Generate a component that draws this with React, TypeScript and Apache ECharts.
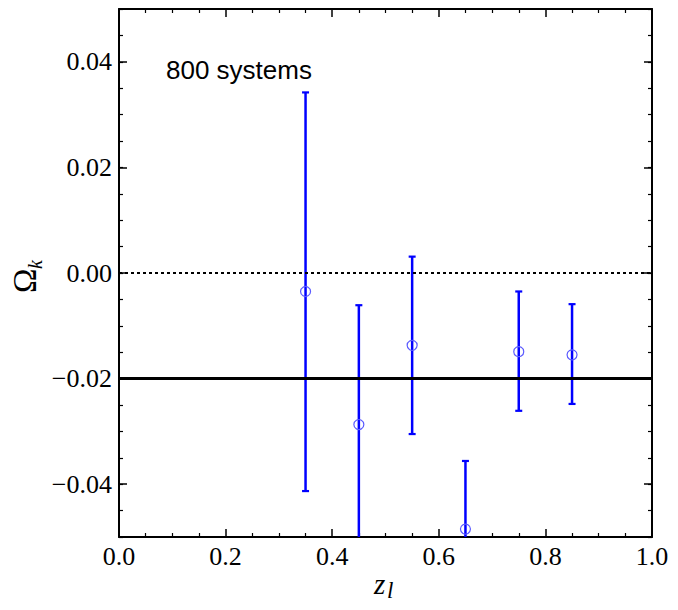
import React, { useEffect, useRef } from "react";
import * as echarts from "echarts";

const zl = [0.35, 0.45, 0.55, 0.65, 0.75, 0.85];
const omegaK = [-0.0035, -0.0287, -0.0137, -0.0485, -0.0149, -0.0155];
const errLow = [-0.0413, -0.054, -0.0305, -0.062, -0.0261, -0.0248];
const errHigh = [0.0342, -0.0061, 0.0031, -0.0356, -0.0035, -0.0059];
const yMajorTicks = [-0.04, -0.02, 0, 0.02, 0.04];
const refZero = [[0, 0], [1, 0]];
const refFlat = [[0, -0.02], [1, -0.02]];
const annotation = "800 systems";

const serif = "'Liberation Serif', 'DejaVu Serif', serif";

const fmtY = (v: number) => {
  const s = Math.abs(v) < 1e-9 ? "0.00" : v.toFixed(2);
  return s.replace("-", "\u2212");
};

export default function App() {
  const ref = useRef<HTMLDivElement>(null);
  useEffect(() => {
    if (!ref.current) return;
    const chart = echarts.init(ref.current, null, { renderer: "svg" });
    const left = 119, right = 26, top = 9, bottom = 73;
    const axisLine = { show: true, onZero: false, lineStyle: { color: "#000", width: 2 } };
    const majorTick = { show: true, inside: true, length: 8, lineStyle: { color: "#000", width: 1.5 } };
    const minorTickY = { show: true, inside: true, length: 4, lineStyle: { color: "#000", width: 1.2 } };
    const labelStyle = { color: "#000", fontFamily: serif, fontSize: 26 };

    const errData = zl.map((x, i) => [x, errLow[i], errHigh[i]]);

    chart.setOption({
      animation: false,
      backgroundColor: "#fff",
      grid: { left, right, top, bottom, containLabel: false },
      xAxis: [
        {
          type: "value", position: "bottom", min: 0, max: 1, interval: 0.2,
          axisLine, axisTick: majorTick,
          minorTick: { show: true, splitNumber: 4, length: 4, lineStyle: { color: "#000", width: 1.2 } },
          axisLabel: { ...labelStyle, margin: 6, formatter: (v: number) => v.toFixed(1) },
          splitLine: { show: false }, minorSplitLine: { show: false },
        },
        {
          type: "value", position: "top", min: 0, max: 1, interval: 0.2,
          axisLine, axisTick: majorTick,
          minorTick: { show: true, splitNumber: 4, length: 4, lineStyle: { color: "#000", width: 1.2 } },
          axisLabel: { show: false }, splitLine: { show: false }, minorSplitLine: { show: false },
        },
      ],
      yAxis: [
        {
          type: "value", position: "left", min: -0.05, max: 0.05,
          axisLine,
          axisTick: { ...majorTick, customValues: yMajorTicks },
          axisLabel: { ...labelStyle, margin: 7, customValues: yMajorTicks, formatter: fmtY },
          splitLine: { show: false },
        },
        {
          type: "value", position: "left", min: -0.05, max: 0.05, interval: 0.005,
          axisLine: { show: false, onZero: false }, axisTick: minorTickY,
          axisLabel: { show: false }, splitLine: { show: false },
        },
        {
          type: "value", position: "right", min: -0.05, max: 0.05,
          axisLine,
          axisTick: { ...majorTick, customValues: yMajorTicks },
          axisLabel: { show: false }, splitLine: { show: false },
        },
        {
          type: "value", position: "right", min: -0.05, max: 0.05, interval: 0.005,
          axisLine: { show: false, onZero: false }, axisTick: minorTickY,
          axisLabel: { show: false }, splitLine: { show: false },
        },
      ],
      series: [
        {
          type: "line", data: refZero, xAxisIndex: 0, yAxisIndex: 0, symbol: "none",
          lineStyle: { color: "#000", width: 1.8, type: [3, 3] }, silent: true,
        },
        {
          type: "line", data: refFlat, xAxisIndex: 0, yAxisIndex: 0, symbol: "none",
          lineStyle: { color: "#000", width: 3 }, silent: true,
        },
        {
          type: "custom", xAxisIndex: 0, yAxisIndex: 0, data: errData, clip: true,
          renderItem: (params: any, api: any) => {
            const x = api.value(0);
            const lo = api.value(1);
            const hi = api.value(2);
            const pLo = api.coord([x, lo]);
            const pHi = api.coord([x, hi]);
            const cs = params.coordSys;
            const yTop = cs.y, yBot = cs.y + cs.height;
            const y1 = Math.max(yTop, Math.min(yBot, pHi[1]));
            const y2 = Math.max(yTop, Math.min(yBot, pLo[1]));
            const cx = pLo[0];
            const st = { stroke: "#0000ff", lineWidth: 2.5 };
            const capSt = { stroke: "#0000ff", lineWidth: 2.2 };
            const children: any[] = [
              { type: "line", shape: { x1: cx, y1, x2: cx, y2 }, style: st },
            ];
            const hw = 3.5;
            if (pHi[1] >= yTop && pHi[1] <= yBot)
              children.push({ type: "line", shape: { x1: cx - hw, y1: pHi[1], x2: cx + hw, y2: pHi[1] }, style: capSt });
            if (pLo[1] >= yTop && pLo[1] <= yBot)
              children.push({ type: "line", shape: { x1: cx - hw, y1: pLo[1], x2: cx + hw, y2: pLo[1] }, style: capSt });
            return { type: "group", children };
          },
        },
        {
          type: "scatter", xAxisIndex: 0, yAxisIndex: 0,
          data: zl.map((x, i) => [x, omegaK[i]]),
          symbol: "circle", symbolSize: 10,
          itemStyle: { color: "rgba(0,0,0,0)", borderColor: "#5a5aff", borderWidth: 1.2, opacity: 1 },
          z: 5,
        },
      ],
      graphic: [
        {
          type: "text", left: 166, top: 57,
          style: { text: annotation, font: "26px 'Liberation Sans', Arial, sans-serif", fill: "#000" },
        },
        {
          type: "group", x: 41, y: 293, rotation: Math.PI / 2,
          children: [
            { type: "text", x: 0, y: 0, style: { text: "\u03A9", font: "33px " + serif, fill: "#000", align: "left", verticalAlign: "bottom" } },
            { type: "text", x: 24, y: 4, style: { text: "k", font: "italic 20px " + serif, fill: "#000", align: "left", verticalAlign: "bottom" } },
          ],
        },
        {
          type: "group", x: 374, y: 598,
          children: [
            { type: "text", x: 0, y: 0, style: { text: "z", font: "italic 29px " + serif, fill: "#000", align: "left", verticalAlign: "bottom" } },
            { type: "text", x: 13, y: 4, style: { text: "l", font: "italic 23px " + serif, fill: "#000", align: "left", verticalAlign: "bottom" } },
          ],
        },
      ],
    });
    return () => chart.dispose();
  }, []);
  return (
    <div
      ref={ref}
      style={{ position: "fixed", left: 0, top: 0, width: 678, height: 610, background: "#fff" }}
    />
  );
}
